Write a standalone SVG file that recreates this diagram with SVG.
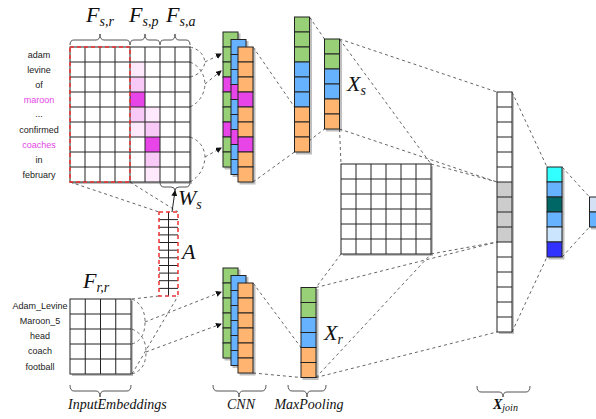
<svg xmlns="http://www.w3.org/2000/svg" width="596" height="419" viewBox="0 0 596 419">
<style>
.c{stroke:#222;stroke-width:1}
.g{fill:#97d077}.b{fill:#66b2ff}.o{fill:#ffb570}.m{fill:#e845e8}
.w{fill:#fff}.gr{fill:#cccccc}
.ln{stroke:#222;stroke-width:1;fill:none}
.d{stroke:#666;stroke-width:1;stroke-dasharray:3 3;fill:none}
.br{stroke:#555;stroke-width:1;fill:none}
.word{font-family:"Liberation Sans",Arial,sans-serif;font-size:9px;fill:#222;text-anchor:middle}
.math{font-family:"Liberation Serif","Times New Roman",serif;font-style:italic;fill:#111}
</style>
<defs>
<filter id="sh" x="-20%" y="-20%" width="140%" height="140%"><feDropShadow dx="2" dy="2" stdDeviation="0.6" flood-color="#000" flood-opacity="0.25"/></filter>
<marker id="ar" markerWidth="6" markerHeight="6" refX="5" refY="3" orient="auto" markerUnits="userSpaceOnUse"><path d="M0,0 L6,3 L0,6 Z" fill="#111"/></marker>
</defs>

<g id="connectors">
<!-- top matrix to CNN -->
<path class="d" d="M190,47 Q203,50 205,62 M190,77 Q203,74 205,62"/>
<path class="d" d="M205,62 L221,54" marker-end="url(#ar)"/>
<path class="d" d="M190,62 Q204,68 205,84 M190,107 Q204,100 205,84"/>
<path class="d" d="M205,84 L221,71" marker-end="url(#ar)"/>
<path class="d" d="M190,137 Q204,142 205,157 M190,182 Q204,174 205,157"/>
<path class="d" d="M205,157 L221,148" marker-end="url(#ar)"/>
<!-- bottom matrix to CNN -->
<path class="d" d="M132,299 Q145,305 145,322 M132,344 Q145,340 145,322"/>
<path class="d" d="M145,322 L221,292" marker-end="url(#ar)"/>
<path class="d" d="M132,329 Q146,335 146,352 M132,374 Q146,370 146,352"/>
<path class="d" d="M146,352 L221,324" marker-end="url(#ar)"/>
<!-- matrices to A -->
<path class="d" d="M70,182 L159,212 M130,182 L178,212"/>
<path class="d" d="M132,299 L159,296 M132,374 L178,296"/>
<!-- CNN to maxpool -->
<path class="d" d="M253,47 L294.5,107 M253,182 L294.5,152"/>
<path class="d" d="M309.5,17 L324.5,39 M294.5,152 L324.5,129"/>
<path class="d" d="M253,283 L301,347.5 M253,373 L301,377.5"/>
<!-- X_s to join / grid -->
<path class="d" d="M339.5,39 L497,92 M339.5,39 L431,164 M339.5,129 L497,182 M339.5,129 L341,164 M431,164 L497,182"/>
<!-- X_r to join / grid -->
<path class="d" d="M341,254 L316,287.5 M316,287.5 L497,242 M431,254 L497,242 M316,377.5 L497,332 M316,377.5 L431,254"/>
<!-- join to output -->
<path class="d" d="M512,92 L547,167 M512,332 L547,257 M562,167 L589.5,197 M562,257 L589.5,227"/>
<!-- W_s arrow -->
<path class="ln" d="M172,212 L175,191" marker-end="url(#ar)"/>
</g>

<g id="input-sentence">
<g filter="url(#sh)">
<rect x="70" y="47" width="120" height="135" fill="#fff"/>
</g>
<rect x="130" y="62" width="15" height="15" fill="#fde8fc"/>
<rect x="130" y="77" width="15" height="15" fill="#f8c8f6"/>
<rect x="130" y="92" width="15" height="15" class="m"/>
<rect x="130" y="107" width="15" height="15" fill="#f8c8f6"/>
<rect x="130" y="122" width="15" height="15" fill="#fde8fc"/>
<rect x="145" y="107" width="15" height="15" fill="#fde8fc"/>
<rect x="145" y="122" width="15" height="15" fill="#f8c8f6"/>
<rect x="145" y="137" width="15" height="15" class="m"/>
<rect x="145" y="152" width="15" height="15" fill="#f8c8f6"/>
<rect x="145" y="167" width="15" height="15" fill="#fde8fc"/>
<path class="ln" d="M85,47V182M100,47V182M115,47V182M130,47V182M145,47V182M160,47V182M175,47V182M70,62H190M70,77H190M70,92H190M70,107H190M70,122H190M70,137H190M70,152H190M70,167H190"/>
<rect x="70" y="47" width="120" height="135" class="ln"/>
<rect x="70" y="47" width="60" height="135" fill="none" stroke="#ee3333" stroke-width="1.5" stroke-dasharray="4 3"/>
<text class="word" x="39" y="58">adam</text>
<text class="word" x="39" y="73">levine</text>
<text class="word" x="39" y="88">of</text>
<text class="word" x="39" y="103" fill="#e344e5" style="fill:#e344e5">maroon</text>
<text class="word" x="39" y="117">...</text>
<text class="word" x="39" y="133">confirmed</text>
<text class="word" x="39" y="148" style="fill:#e344e5">coaches</text>
<text class="word" x="39" y="163">in</text>
<text class="word" x="39" y="178">february</text>
<path class="br" d="M70,45 Q70,40 74,40 L96,40 Q100,40 100,34 Q100,40 104,40 L126,40 Q130,40 130,45"/>
<path class="br" d="M130,45 Q130,40 134,40 L141,40 Q145,40 145,34 Q145,40 149,40 L156,40 Q160,40 160,45"/>
<path class="br" d="M160,45 Q160,40 164,40 L171,40 Q175,40 175,34 Q175,40 179,40 L186,40 Q190,40 190,45"/>
<text class="math" x="86" y="22" font-size="22">F<tspan font-size="14" dy="4">s,r</tspan></text>
<text class="math" x="129" y="22" font-size="22">F<tspan font-size="14" dy="4">s,p</tspan></text>
<text class="math" x="166" y="22" font-size="22">F<tspan font-size="14" dy="4">s,a</tspan></text>
<path class="br" d="M160,182 Q160,187 164,187 L171,187 Q175,187 175,191 Q175,187 179,187 L186,187 Q190,187 190,182"/>
<text class="math" x="178" y="205" font-size="22">W<tspan font-size="14" dy="4">s</tspan></text>
</g>

<g id="attention-A">
<rect x="159" y="212" width="19" height="84" fill="#fff"/>
<path class="ln" d="M168.5,212V296M159,219.6H178M159,227.3H178M159,234.9H178M159,242.5H178M159,250.2H178M159,257.8H178M159,265.5H178M159,273.1H178M159,280.7H178M159,288.4H178"/>
<rect x="159" y="212" width="19" height="84" fill="none" stroke="#ee3333" stroke-width="1.5" stroke-dasharray="4 3"/>
<text class="math" x="182" y="259" font-size="22">A</text>
</g>

<g id="input-relation">
<g filter="url(#sh)"><rect x="70" y="299" width="61" height="75" fill="#fff"/></g>
<path class="ln" d="M85.25,299V374M100.5,299V374M115.75,299V374M70,314H131M70,329H131M70,344H131M70,359H131"/>
<rect x="70" y="299" width="61" height="75" class="ln"/>
<text class="word" x="40" y="309">Adam_Levine</text>
<text class="word" x="40" y="324">Maroon_5</text>
<text class="word" x="40" y="339">head</text>
<text class="word" x="40" y="354">coach</text>
<text class="word" x="40" y="370">football</text>
<text class="math" x="83" y="288" font-size="22">F<tspan font-size="14" dy="4">r,r</tspan></text>
<path class="br" d="M70,385 Q70,391 74,391 L96,391 Q100,391 100,397 Q100,391 104,391 L127,391 Q131,391 131,385"/>
<text class="math" x="68" y="409" font-size="14">InputEmbeddings</text>
</g>

<g id="cnn-top" filter="url(#sh)">
<g class="c">
<rect x="223" y="32" width="15" height="15" class="g"/><rect x="223" y="47" width="15" height="15" class="g"/><rect x="223" y="62" width="15" height="15" class="g"/><rect x="223" y="77" width="15" height="15" class="m"/><rect x="223" y="92" width="15" height="15" class="g"/><rect x="223" y="107" width="15" height="15" class="g"/><rect x="223" y="122" width="15" height="15" class="m"/><rect x="223" y="137" width="15" height="15" class="g"/><rect x="223" y="152" width="15" height="15" class="g"/>
</g>
<g class="c">
<rect x="231" y="39.5" width="15" height="15" class="b"/><rect x="231" y="54.5" width="15" height="15" class="b"/><rect x="231" y="69.5" width="15" height="15" class="b"/><rect x="231" y="84.5" width="15" height="15" class="m"/><rect x="231" y="99.5" width="15" height="15" class="b"/><rect x="231" y="114.5" width="15" height="15" class="b"/><rect x="231" y="129.5" width="15" height="15" class="m"/><rect x="231" y="144.5" width="15" height="15" class="b"/><rect x="231" y="159.5" width="15" height="15" class="b"/>
</g>
<g class="c">
<rect x="238" y="47" width="15" height="15" class="o"/><rect x="238" y="62" width="15" height="15" class="o"/><rect x="238" y="77" width="15" height="15" class="o"/><rect x="238" y="92" width="15" height="15" class="m"/><rect x="238" y="107" width="15" height="15" class="o"/><rect x="238" y="122" width="15" height="15" class="o"/><rect x="238" y="137" width="15" height="15" class="m"/><rect x="238" y="152" width="15" height="15" class="o"/><rect x="238" y="167" width="15" height="15" class="o"/>
</g>
</g>

<g id="cnn-bottom" filter="url(#sh)">
<g class="c">
<rect x="223" y="268" width="15" height="15" class="g"/><rect x="223" y="283" width="15" height="15" class="g"/><rect x="223" y="298" width="15" height="15" class="g"/><rect x="223" y="313" width="15" height="15" class="g"/><rect x="223" y="328" width="15" height="15" class="g"/><rect x="223" y="343" width="15" height="15" class="g"/>
</g>
<g class="c">
<rect x="231" y="275.5" width="15" height="15" class="b"/><rect x="231" y="290.5" width="15" height="15" class="b"/><rect x="231" y="305.5" width="15" height="15" class="b"/><rect x="231" y="320.5" width="15" height="15" class="b"/><rect x="231" y="335.5" width="15" height="15" class="b"/><rect x="231" y="350.5" width="15" height="15" class="b"/>
</g>
<g class="c">
<rect x="238" y="283" width="15" height="15" class="o"/><rect x="238" y="298" width="15" height="15" class="o"/><rect x="238" y="313" width="15" height="15" class="o"/><rect x="238" y="328" width="15" height="15" class="o"/><rect x="238" y="343" width="15" height="15" class="o"/><rect x="238" y="358" width="15" height="15" class="o"/>
</g>
</g>

<g id="maxpool-top" filter="url(#sh)" class="c">
<rect x="294.5" y="17" width="15" height="15" class="g"/><rect x="294.5" y="32" width="15" height="15" class="g"/><rect x="294.5" y="47" width="15" height="15" class="g"/><rect x="294.5" y="62" width="15" height="15" class="b"/><rect x="294.5" y="77" width="15" height="15" class="b"/><rect x="294.5" y="92" width="15" height="15" class="b"/><rect x="294.5" y="107" width="15" height="15" class="o"/><rect x="294.5" y="122" width="15" height="15" class="o"/><rect x="294.5" y="137" width="15" height="15" class="o"/>
</g>

<g id="x-s">
<g filter="url(#sh)" class="c">
<rect x="324.5" y="39" width="15" height="15" class="g"/><rect x="324.5" y="54" width="15" height="15" class="g"/><rect x="324.5" y="69" width="15" height="15" class="b"/><rect x="324.5" y="84" width="15" height="15" class="b"/><rect x="324.5" y="99" width="15" height="15" class="o"/><rect x="324.5" y="114" width="15" height="15" class="o"/>
</g>
<text class="math" x="347" y="91" font-size="22">X<tspan font-size="14" dy="4">s</tspan></text>
</g>

<g id="x-r">
<g filter="url(#sh)" class="c">
<rect x="301" y="287.5" width="15" height="15" class="g"/><rect x="301" y="302.5" width="15" height="15" class="g"/><rect x="301" y="317.5" width="15" height="15" class="b"/><rect x="301" y="332.5" width="15" height="15" class="b"/><rect x="301" y="347.5" width="15" height="15" class="o"/><rect x="301" y="362.5" width="15" height="15" class="o"/>
</g>
<text class="math" x="324" y="340" font-size="22">X<tspan font-size="14" dy="4">r</tspan></text>
</g>

<g id="labels-cnn">
<path class="br" d="M213,385 Q213,391 217,391 L235,391 Q239,391 239,397 Q239,391 243,391 L262,391 Q266,391 266,385"/>
<text class="math" x="241" y="409" font-size="14" text-anchor="middle">CNN</text>
<path class="br" d="M288,385 Q288,391 292,391 L303,391 Q307,391 307,397 Q307,391 311,391 L322,391 Q326,391 326,385"/>
<text class="math" x="309" y="409" font-size="14" text-anchor="middle">MaxPooling</text>
</g>

<g id="interaction-grid">
<g filter="url(#sh)"><rect x="341" y="164" width="90" height="90" fill="#fff"/></g>
<path class="ln" d="M356,164V254M371,164V254M386,164V254M401,164V254M416,164V254M341,179H431M341,194H431M341,209H431M341,224H431M341,239H431"/>
<rect x="341" y="164" width="90" height="90" class="ln"/>
</g>

<g id="x-join">
<g filter="url(#sh)"><rect x="497" y="92" width="15" height="240" fill="#fff"/></g>
<rect x="497" y="182" width="15" height="60" class="gr"/>
<path class="ln" d="M497,107H512M497,122H512M497,137H512M497,152H512M497,167H512M497,182H512M497,197H512M497,212H512M497,227H512M497,242H512M497,257H512M497,272H512M497,287H512M497,302H512M497,317H512"/>
<rect x="497" y="92" width="15" height="240" class="ln"/>
<path class="br" d="M477,386 Q477,392 481,392 L499,392 Q503,392 503,397 Q503,392 507,392 L526,392 Q530,392 530,386"/>
<text class="math" x="493" y="409" font-size="14"><tspan font-weight="bold">X</tspan><tspan font-size="10" dy="2">join</tspan></text>
</g>

<g id="output" filter="url(#sh)" class="c">
<rect x="547" y="167" width="15" height="15" fill="#33ffff"/><rect x="547" y="182" width="15" height="15" fill="#66b2ff"/><rect x="547" y="197" width="15" height="15" fill="#006666"/><rect x="547" y="212" width="15" height="15" fill="#66b2ff"/><rect x="547" y="227" width="15" height="15" fill="#cce5ff"/><rect x="547" y="242" width="15" height="15" fill="#3333ff"/>
</g>

<g id="final" filter="url(#sh)" class="c">
<rect x="589.5" y="197" width="15" height="15" fill="#d4e1f5"/><rect x="589.5" y="212" width="15" height="15" fill="#66b2ff"/>
</g>
</svg>
